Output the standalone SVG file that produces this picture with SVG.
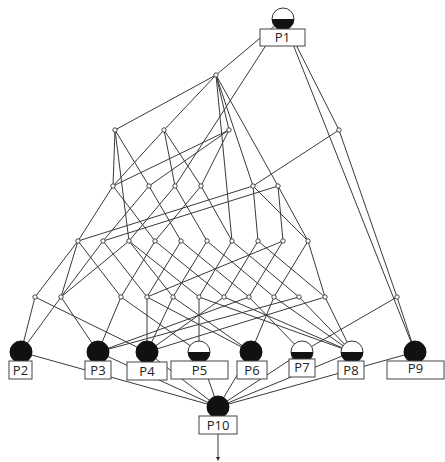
<svg xmlns="http://www.w3.org/2000/svg" width="445" height="462" viewBox="0 0 445 462">
<style>
  .e { stroke: #3a3a3a; stroke-width: 1; fill: none; }
  .n { fill: #fff; stroke: #333; stroke-width: 0.9; }
  .full { fill: #111; stroke: #111; stroke-width: 1; }
  .ring { fill: #fff; stroke: #333; stroke-width: 1; }
  .half { fill: #111; }
  .box { fill: #fff; stroke: #444; stroke-width: 1; }
  .lbl { font-family: "Open Sans", "Liberation Sans", sans-serif; font-size: 13px; fill: #222; text-anchor: middle; }
</style>
<defs>
  <marker id="tip" markerWidth="4" markerHeight="4" refX="2" refY="2" orient="auto">
    <path d="M0,0 L4,2 L0,4 z" fill="#222"/>
  </marker>
</defs>

<g id="connectors">
  <!-- top concept -->
  <line class="e" x1="283" y1="19" x2="216" y2="75"/>
  <line class="e" x1="283" y1="19" x2="175" y2="186"/>
  <line class="e" x1="283" y1="19" x2="339" y2="130"/>
  <line class="e" x1="283" y1="19" x2="415" y2="352"/>
  <!-- level 1 -->
  <line class="e" x1="216" y1="75" x2="115" y2="130"/>
  <line class="e" x1="216" y1="75" x2="164" y2="130"/>
  <line class="e" x1="216" y1="75" x2="229" y2="130"/>
  <line class="e" x1="216" y1="75" x2="253" y2="186"/>
  <line class="e" x1="216" y1="75" x2="278" y2="186"/>
  <line class="e" x1="216" y1="75" x2="232" y2="241"/>
  <!-- level 2 -->
  <line class="e" x1="115" y1="130" x2="113" y2="186"/>
  <line class="e" x1="115" y1="130" x2="149" y2="186"/>
  <line class="e" x1="115" y1="130" x2="129" y2="241"/>
  <line class="e" x1="164" y1="130" x2="113" y2="186"/>
  <line class="e" x1="164" y1="130" x2="201" y2="186"/>
  <line class="e" x1="164" y1="130" x2="175" y2="186"/>
  <line class="e" x1="229" y1="130" x2="113" y2="186"/>
  <line class="e" x1="229" y1="130" x2="149" y2="186"/>
  <line class="e" x1="229" y1="130" x2="201" y2="186"/>
  <line class="e" x1="339" y1="130" x2="253" y2="186"/>
  <line class="e" x1="339" y1="130" x2="397" y2="297"/>
  <!-- level 3 -->
  <line class="e" x1="113" y1="186" x2="78" y2="241"/>
  <line class="e" x1="113" y1="186" x2="155" y2="241"/>
  <line class="e" x1="149" y1="186" x2="103" y2="241"/>
  <line class="e" x1="149" y1="186" x2="181" y2="241"/>
  <line class="e" x1="175" y1="186" x2="129" y2="241"/>
  <line class="e" x1="175" y1="186" x2="207" y2="241"/>
  <line class="e" x1="201" y1="186" x2="155" y2="241"/>
  <line class="e" x1="201" y1="186" x2="232" y2="241"/>
  <line class="e" x1="253" y1="186" x2="78" y2="241"/>
  <line class="e" x1="253" y1="186" x2="258" y2="241"/>
  <line class="e" x1="253" y1="186" x2="308" y2="241"/>
  <line class="e" x1="278" y1="186" x2="103" y2="241"/>
  <line class="e" x1="278" y1="186" x2="283" y2="241"/>
  <line class="e" x1="278" y1="186" x2="308" y2="241"/>
  <!-- level 4 -->
  <line class="e" x1="78" y1="241" x2="35" y2="297"/>
  <line class="e" x1="78" y1="241" x2="61" y2="297"/>
  <line class="e" x1="78" y1="241" x2="121" y2="297"/>
  <line class="e" x1="103" y1="241" x2="61" y2="297"/>
  <line class="e" x1="103" y1="241" x2="147" y2="297"/>
  <line class="e" x1="129" y1="241" x2="61" y2="297"/>
  <line class="e" x1="129" y1="241" x2="173" y2="297"/>
  <line class="e" x1="129" y1="241" x2="199" y2="297"/>
  <line class="e" x1="155" y1="241" x2="121" y2="297"/>
  <line class="e" x1="155" y1="241" x2="224" y2="297"/>
  <line class="e" x1="181" y1="241" x2="147" y2="297"/>
  <line class="e" x1="181" y1="241" x2="249" y2="297"/>
  <line class="e" x1="207" y1="241" x2="173" y2="297"/>
  <line class="e" x1="207" y1="241" x2="274" y2="297"/>
  <line class="e" x1="232" y1="241" x2="199" y2="297"/>
  <line class="e" x1="232" y1="241" x2="299" y2="297"/>
  <line class="e" x1="258" y1="241" x2="224" y2="297"/>
  <line class="e" x1="258" y1="241" x2="325" y2="297"/>
  <line class="e" x1="283" y1="241" x2="249" y2="297"/>
  <line class="e" x1="283" y1="241" x2="147" y2="297"/>
  <line class="e" x1="308" y1="241" x2="274" y2="297"/>
  <line class="e" x1="308" y1="241" x2="325" y2="297"/>
  <!-- level 5 -->
  <line class="e" x1="35" y1="297" x2="21" y2="352"/>
  <line class="e" x1="35" y1="297" x2="147" y2="352"/>
  <line class="e" x1="61" y1="297" x2="21" y2="352"/>
  <line class="e" x1="61" y1="297" x2="98" y2="352"/>
  <line class="e" x1="121" y1="297" x2="98" y2="352"/>
  <line class="e" x1="121" y1="297" x2="199" y2="352"/>
  <line class="e" x1="147" y1="297" x2="147" y2="352"/>
  <line class="e" x1="147" y1="297" x2="251" y2="352"/>
  <line class="e" x1="173" y1="297" x2="147" y2="352"/>
  <line class="e" x1="173" y1="297" x2="251" y2="352"/>
  <line class="e" x1="199" y1="297" x2="199" y2="352"/>
  <line class="e" x1="199" y1="297" x2="352" y2="352"/>
  <line class="e" x1="224" y1="297" x2="147" y2="352"/>
  <line class="e" x1="224" y1="297" x2="352" y2="352"/>
  <line class="e" x1="249" y1="297" x2="98" y2="352"/>
  <line class="e" x1="249" y1="297" x2="302" y2="352"/>
  <line class="e" x1="274" y1="297" x2="251" y2="352"/>
  <line class="e" x1="274" y1="297" x2="352" y2="352"/>
  <line class="e" x1="299" y1="297" x2="98" y2="352"/>
  <line class="e" x1="299" y1="297" x2="352" y2="352"/>
  <line class="e" x1="325" y1="297" x2="147" y2="352"/>
  <line class="e" x1="325" y1="297" x2="352" y2="352"/>
  <line class="e" x1="397" y1="297" x2="302" y2="352"/>
  <line class="e" x1="397" y1="297" x2="415" y2="352"/>
  <!-- into the bottom concept -->
  <line class="e" x1="21" y1="352" x2="218" y2="407"/>
  <line class="e" x1="98" y1="352" x2="218" y2="407"/>
  <line class="e" x1="147" y1="352" x2="218" y2="407"/>
  <line class="e" x1="199" y1="352" x2="218" y2="407"/>
  <line class="e" x1="251" y1="352" x2="218" y2="407"/>
  <line class="e" x1="302" y1="352" x2="218" y2="407"/>
  <line class="e" x1="352" y1="352" x2="218" y2="407"/>
  <line class="e" x1="415" y1="352" x2="218" y2="407"/>
  <line class="e" x1="218" y1="434" x2="218" y2="459" marker-end="url(#tip)"/>
</g>

<g id="inner-nodes">
  <circle class="n" cx="216" cy="75" r="2.2"/>
  <circle class="n" cx="115" cy="130" r="2.2"/>
  <circle class="n" cx="164" cy="130" r="2.2"/>
  <circle class="n" cx="229" cy="130" r="2.2"/>
  <circle class="n" cx="339" cy="130" r="2.2"/>
  <circle class="n" cx="113" cy="186" r="2.2"/>
  <circle class="n" cx="149" cy="186" r="2.2"/>
  <circle class="n" cx="175" cy="186" r="2.2"/>
  <circle class="n" cx="201" cy="186" r="2.2"/>
  <circle class="n" cx="253" cy="186" r="2.2"/>
  <circle class="n" cx="278" cy="186" r="2.2"/>
  <circle class="n" cx="78" cy="241" r="2.2"/>
  <circle class="n" cx="103" cy="241" r="2.2"/>
  <circle class="n" cx="129" cy="241" r="2.2"/>
  <circle class="n" cx="155" cy="241" r="2.2"/>
  <circle class="n" cx="181" cy="241" r="2.2"/>
  <circle class="n" cx="207" cy="241" r="2.2"/>
  <circle class="n" cx="232" cy="241" r="2.2"/>
  <circle class="n" cx="258" cy="241" r="2.2"/>
  <circle class="n" cx="283" cy="241" r="2.2"/>
  <circle class="n" cx="308" cy="241" r="2.2"/>
  <circle class="n" cx="35" cy="297" r="2.2"/>
  <circle class="n" cx="61" cy="297" r="2.2"/>
  <circle class="n" cx="121" cy="297" r="2.2"/>
  <circle class="n" cx="147" cy="297" r="2.2"/>
  <circle class="n" cx="173" cy="297" r="2.2"/>
  <circle class="n" cx="199" cy="297" r="2.2"/>
  <circle class="n" cx="224" cy="297" r="2.2"/>
  <circle class="n" cx="249" cy="297" r="2.2"/>
  <circle class="n" cx="274" cy="297" r="2.2"/>
  <circle class="n" cx="299" cy="297" r="2.2"/>
  <circle class="n" cx="325" cy="297" r="2.2"/>
  <circle class="n" cx="397" cy="297" r="2.2"/>
</g>

<g id="P1">
  <circle class="ring" cx="283" cy="19" r="11"/>
  <path class="half" d="M272,19 A11,11 0 0 0 294,19 Z"/>
  <rect class="box" x="260" y="29" width="45" height="17"/>
  <text class="lbl" x="282.5" y="42">P1</text>
</g>
<g id="P2">
  <circle class="full" cx="21" cy="352" r="11"/>
  <rect class="box" x="9" y="361" width="23" height="18"/>
  <text class="lbl" x="20.5" y="375">P2</text>
</g>
<g id="P3">
  <circle class="full" cx="98" cy="352" r="11"/>
  <rect class="box" x="85" y="361" width="26" height="18"/>
  <text class="lbl" x="98" y="375">P3</text>
</g>
<g id="P4">
  <circle class="full" cx="147" cy="352" r="11"/>
  <rect class="box" x="127" y="362" width="40" height="18"/>
  <text class="lbl" x="147" y="376">P4</text>
</g>
<g id="P5">
  <circle class="ring" cx="199" cy="352" r="11"/>
  <path class="half" d="M188,352 A11,11 0 0 0 210,352 Z"/>
  <rect class="box" x="171" y="361" width="57" height="18"/>
  <text class="lbl" x="199.5" y="375">P5</text>
</g>
<g id="P6">
  <circle class="full" cx="251" cy="352" r="11"/>
  <rect class="box" x="237" y="361" width="30" height="18"/>
  <text class="lbl" x="252" y="375">P6</text>
</g>
<g id="P7">
  <circle class="ring" cx="302" cy="352" r="11"/>
  <path class="half" d="M291,352 A11,11 0 0 0 313,352 Z"/>
  <rect class="box" x="289" y="359" width="26" height="18"/>
  <text class="lbl" x="302" y="372">P7</text>
</g>
<g id="P8">
  <circle class="ring" cx="352" cy="352" r="11"/>
  <path class="half" d="M341,352 A11,11 0 0 0 363,352 Z"/>
  <rect class="box" x="338" y="361" width="26" height="18"/>
  <text class="lbl" x="351" y="375">P8</text>
</g>
<g id="P9">
  <circle class="full" cx="415" cy="352" r="11"/>
  <rect class="box" x="387" y="361" width="57" height="18"/>
  <text class="lbl" x="415.5" y="373">P9</text>
</g>
<g id="P10">
  <circle class="full" cx="218" cy="407" r="11"/>
  <rect class="box" x="199" y="416" width="38" height="18"/>
  <text class="lbl" x="218" y="430">P10</text>
</g>
</svg>
